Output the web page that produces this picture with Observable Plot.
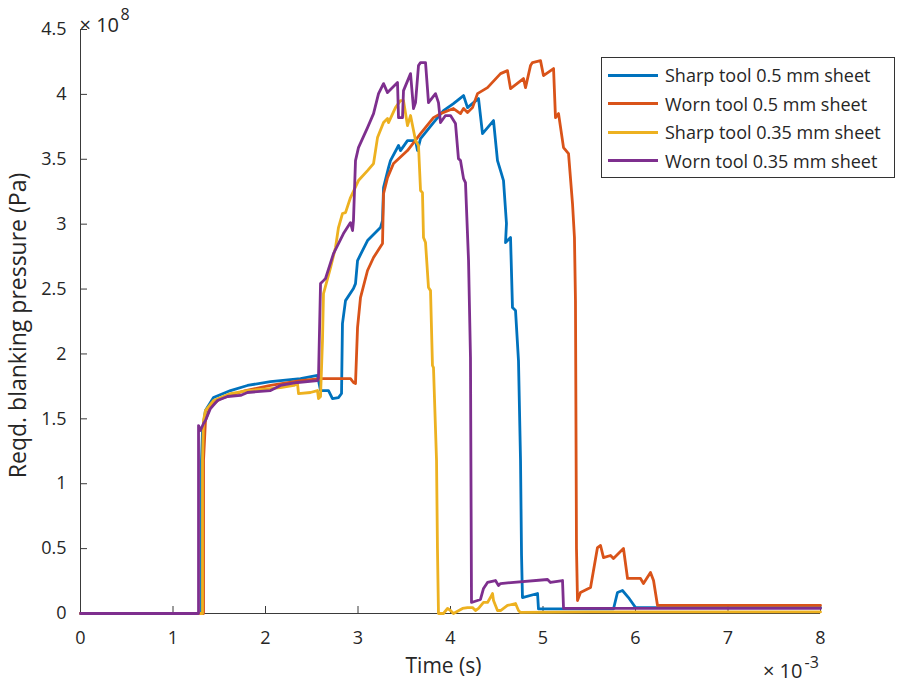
<!DOCTYPE html>
<html><head><meta charset="utf-8">
<script src="https://cdn.jsdelivr.net/npm/d3@7"></script>
<script src="https://cdn.jsdelivr.net/npm/@observablehq/plot@0.6"></script>
<style>
body{margin:0;background:#fff;font-family:"Open Sans",sans-serif;}
#wrap{position:relative;width:903px;height:693px;}
#legend{position:absolute;left:601px;top:57px;width:294px;height:121px;border:1px solid #333;background:#fff;box-sizing:border-box;}
.row{position:absolute;left:6px;height:24px;display:flex;align-items:center;font-size:18px;color:#262626;white-space:nowrap;}
.sw{width:50px;height:3px;margin-right:7px;}
</style></head><body><div id="wrap"></div>
<script>
const seriesNames = ["Sharp tool 0.5 mm sheet", "Worn tool 0.5 mm sheet", "Sharp tool 0.35 mm sheet", "Worn tool 0.35 mm sheet"];
const seriesColors = ["#0072BD", "#D95319", "#EDB120", "#7E2F8E"];

// time in units of 1e-3 s, pressure in units of 1e8 Pa
const sharp05Time = [0, 1.308, 1.308, 1.319, 1.351, 1.438, 1.622, 1.805, 2.054, 2.378, 2.562, 2.595, 2.681, 2.724, 2.789, 2.822, 2.832, 2.865, 2.951, 2.973, 2.995, 3.103, 3.243, 3.265, 3.276, 3.330, 3.351, 3.438, 3.459, 3.535, 3.622, 3.643, 3.676, 3.816, 3.924, 4.032, 4.141, 4.184, 4.249, 4.303, 4.346, 4.465, 4.508, 4.541, 4.573, 4.605, 4.595, 4.649, 4.670, 4.703, 4.735, 4.757, 4.768, 4.778, 4.941, 4.951, 5.762, 5.805, 5.859, 5.924, 6.0, 8];
const sharp05Pressure = [0, 0, 1.179, 1.410, 1.564, 1.664, 1.718, 1.757, 1.787, 1.810, 1.834, 1.718, 1.718, 1.656, 1.664, 1.695, 2.234, 2.411, 2.504, 2.542, 2.720, 2.874, 2.974, 3.028, 3.282, 3.436, 3.490, 3.606, 3.567, 3.644, 3.644, 3.567, 3.659, 3.783, 3.875, 3.929, 3.991, 3.898, 3.937, 3.968, 3.698, 3.798, 3.490, 3.413, 3.336, 3.005, 2.858, 2.897, 2.357, 2.334, 1.949, 1.179, 0.447, 0.123, 0.154, 0.035, 0.035, 0.162, 0.177, 0.123, 0.046, 0.046];

const worn05Time = [0, 1.330, 1.330, 1.351, 1.405, 1.514, 1.784, 2.054, 2.378, 2.595, 2.919, 2.951, 2.973, 2.995, 3.027, 3.103, 3.168, 3.265, 3.276, 3.319, 3.384, 3.535, 3.676, 3.816, 3.892, 4.032, 4.108, 4.141, 4.184, 4.238, 4.292, 4.400, 4.541, 4.616, 4.649, 4.789, 4.811, 4.865, 4.886, 4.973, 5.005, 5.114, 5.135, 5.168, 5.222, 5.276, 5.319, 5.340, 5.351, 5.362, 5.373, 5.405, 5.514, 5.589, 5.622, 5.654, 5.730, 5.762, 5.870, 5.914, 6.054, 6.086, 6.162, 6.195, 6.238, 8];
const worn05Pressure = [0, 0, 1.179, 1.487, 1.602, 1.656, 1.718, 1.757, 1.795, 1.810, 1.810, 1.780, 1.772, 2.203, 2.434, 2.643, 2.743, 2.851, 3.236, 3.359, 3.467, 3.567, 3.698, 3.821, 3.852, 3.891, 3.852, 3.891, 3.860, 3.898, 4.006, 4.052, 4.160, 4.183, 4.045, 4.122, 4.052, 4.222, 4.245, 4.260, 4.145, 4.199, 3.821, 3.852, 3.590, 3.544, 3.159, 2.897, 2.411, 0.500, 0.100, 0.162, 0.200, 0.508, 0.524, 0.431, 0.447, 0.424, 0.501, 0.270, 0.270, 0.231, 0.316, 0.254, 0.062, 0.062];

const sharp035Time = [0, 1.319, 1.319, 1.330, 1.351, 1.438, 1.622, 1.805, 2.054, 2.162, 2.308, 2.346, 2.357, 2.486, 2.562, 2.573, 2.595, 2.616, 2.627, 2.703, 2.757, 2.789, 2.832, 2.865, 2.919, 3.005, 3.103, 3.168, 3.211, 3.276, 3.319, 3.330, 3.405, 3.459, 3.492, 3.535, 3.568, 3.622, 3.654, 3.676, 3.697, 3.708, 3.730, 3.762, 3.784, 3.805, 3.816, 3.849, 3.859, 3.870, 3.924, 3.968, 4.000, 4.032, 4.130, 4.184, 4.238, 4.270, 4.303, 4.357, 4.400, 4.432, 4.454, 4.465, 4.508, 4.541, 4.616, 4.703, 4.735, 4.757, 5.500, 8];
const sharp035Pressure = [0, 0, 1.179, 1.487, 1.564, 1.641, 1.695, 1.718, 1.733, 1.741, 1.757, 1.772, 1.695, 1.703, 1.718, 1.656, 1.672, 2.103, 2.465, 2.666, 2.820, 2.974, 3.082, 3.089, 3.205, 3.336, 3.413, 3.467, 3.667, 3.783, 3.814, 3.783, 3.898, 3.952, 3.952, 3.760, 3.837, 3.644, 3.606, 3.259, 3.243, 2.897, 2.858, 2.512, 2.488, 1.911, 1.895, 1.179, 0.500, 0, 0, 0.039, 0.023, 0, 0.039, 0.046, 0.046, 0.023, 0.039, 0.085, 0.085, 0.123, 0.154, 0.100, 0.023, 0.023, 0.062, 0.077, 0.023, 0.008, 0.012, 0.012];

const worn035Time = [0, 1.276, 1.276, 1.297, 1.330, 1.351, 1.405, 1.481, 1.589, 1.730, 1.805, 2.054, 2.162, 2.346, 2.562, 2.573, 2.595, 2.627, 2.649, 2.735, 2.843, 2.919, 2.941, 2.951, 2.973, 3.005, 3.103, 3.168, 3.222, 3.276, 3.319, 3.427, 3.438, 3.481, 3.492, 3.568, 3.600, 3.622, 3.654, 3.676, 3.730, 3.751, 3.762, 3.838, 3.870, 3.892, 3.946, 4.000, 4.054, 4.086, 4.108, 4.141, 4.162, 4.195, 4.216, 4.227, 4.324, 4.357, 4.400, 4.486, 4.519, 4.541, 5.049, 5.081, 5.211, 5.222, 8];
const worn035Pressure = [0, 0, 1.448, 1.410, 1.464, 1.487, 1.579, 1.641, 1.672, 1.680, 1.703, 1.718, 1.757, 1.780, 1.795, 1.818, 2.542, 2.565, 2.581, 2.773, 2.928, 3.012, 2.951, 3.028, 3.490, 3.590, 3.744, 3.852, 4.006, 4.083, 4.014, 4.091, 3.821, 3.821, 4.029, 4.160, 3.891, 3.937, 4.222, 4.245, 4.245, 4.045, 3.937, 4.006, 3.937, 3.783, 3.837, 3.837, 3.775, 3.505, 3.490, 3.351, 3.320, 2.720, 1.972, 0.085, 0.108, 0.193, 0.239, 0.254, 0.216, 0.231, 0.262, 0.239, 0.254, 0.039, 0.039];

const xTicks = [0, 1, 2, 3, 4, 5, 6, 7, 8];
const yTicks = [0, 0.5, 1, 1.5, 2, 2.5, 3, 3.5, 4, 4.5];
const xLabel = "Time (s)";
const yLabel = "Reqd. blanking pressure (Pa)";
const xExponent = "-3";
const yExponent = "8";

const seriesData = [
  [sharp05Time, sharp05Pressure],
  [worn05Time, worn05Pressure],
  [sharp035Time, sharp035Pressure],
  [worn035Time, worn035Pressure]
];
const rows = [];
seriesData.forEach(([ts, ps], i) => ts.forEach((t, j) => rows.push({series: seriesNames[i], t, p: ps[j]})));

const axisColor = "#3a3a3a";
const textColor = "#262626";

const chart = Plot.plot({
  width: 903, height: 693,
  marginLeft: 80, marginRight: 83, marginTop: 29, marginBottom: 80,
  style: {fontFamily: "'Open Sans', sans-serif", fontSize: "18px", color: textColor, background: "white"},
  x: {domain: [0, 8]},
  y: {domain: [0, 4.5]},
  color: {domain: seriesNames, range: seriesColors},
  marks: [
    Plot.ruleX([0], {stroke: axisColor, strokeWidth: 1}),
    Plot.ruleY([0], {stroke: axisColor, strokeWidth: 1}),
    Plot.axisX(xTicks, {tickSize: -7, tickPadding: 25, stroke: axisColor, fill: textColor, fontSize: 18, label: null, tickFormat: d => String(d)}),
    Plot.axisY(yTicks, {tickSize: -7, tickPadding: 21, stroke: axisColor, fill: textColor, fontSize: 18, label: null, tickFormat: d => String(d)}),
    Plot.text([xLabel], {frameAnchor: "bottom", textAnchor: "middle", dx: -7, dy: 59, fontSize: 21, fill: textColor}),
    Plot.text([yLabel], {frameAnchor: "left", textAnchor: "middle", dx: -62, dy: 4, rotate: -90, fontSize: 23, fill: textColor}),
    Plot.text(["× 10"], {frameAnchor: "top-left", textAnchor: "start", dx: -1, dy: -12, fontSize: 20, fill: textColor}),
    Plot.text([yExponent], {frameAnchor: "top-left", textAnchor: "start", dx: 40, dy: -21, fontSize: 16, fill: textColor}),
    Plot.text(["× 10"], {frameAnchor: "bottom-right", textAnchor: "end", dx: -18, dy: 64, fontSize: 20, fill: textColor}),
    Plot.text([xExponent], {frameAnchor: "bottom-right", textAnchor: "start", dx: -16, dy: 54, fontSize: 16, fill: textColor}),
    Plot.line(rows, {x: "t", y: "p", z: "series", stroke: "series", strokeWidth: 2.8, strokeLinejoin: "round", curve: "linear"})
  ]
});
const wrap = document.getElementById("wrap");
wrap.appendChild(chart);

const legend = document.createElement("div");
legend.id = "legend";
seriesNames.forEach((name, i) => {
  const row = document.createElement("div");
  row.className = "row";
  row.style.top = (5 + i * 28.5) + "px";
  const sw = document.createElement("div");
  sw.className = "sw";
  sw.style.background = seriesColors[i];
  const tx = document.createElement("span");
  tx.textContent = name;
  row.appendChild(sw); row.appendChild(tx);
  legend.appendChild(row);
});
wrap.appendChild(legend);
</script>
</body></html>
